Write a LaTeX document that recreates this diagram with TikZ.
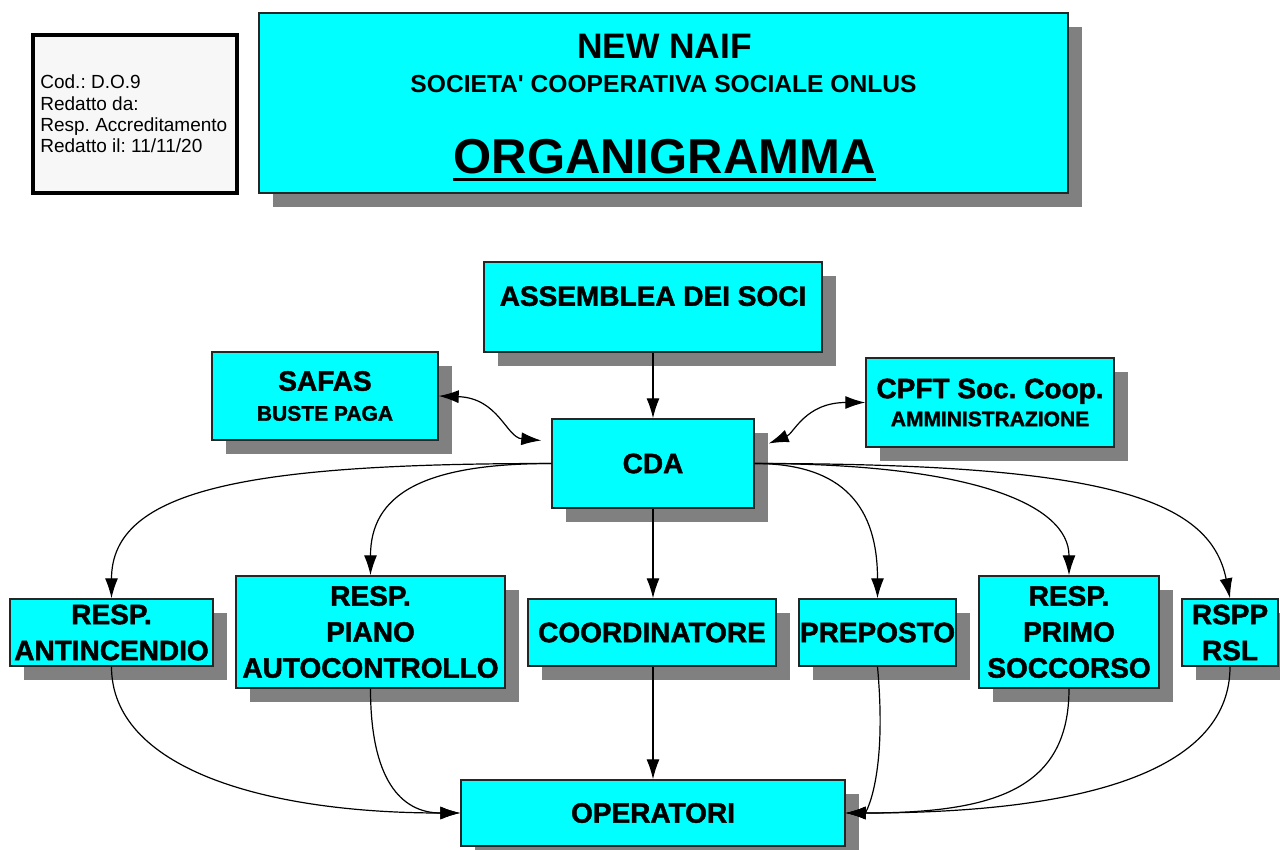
\documentclass[tikz,border=0pt]{standalone}
\usepackage{fontspec}
\setmainfont{Liberation Sans}
\newfontfamily\boxfont{Liberation Sans}[BoldFeatures={FakeBold=1.5}]
\usetikzlibrary{arrows.meta,shadows}
\definecolor{boxcyan}{RGB}{0,255,255}
\newcommand\subsize{\fontsize{10.5}{18}\selectfont}
\frenchspacing

\tikzset{
  orgbox/.style={draw=black!85, line width=0.7pt, fill=boxcyan, inner sep=0pt, align=center,
    drop shadow={shadow xshift=7pt, shadow yshift=-7pt, fill=black!50, opacity=1},
    font=\boxfont\bfseries\fontsize{14}{18}\selectfont},
  link/.style={line width=0.6pt, >={Latex[length=10pt,width=6.5pt]}},
}

\begin{document}
\begin{tikzpicture}[x=0.5pt, y=-0.5pt]
    \useasboundingbox (0,0) rectangle (1280,850);
    \fill[white] (0,0) rectangle (1280,850);

    % Info box
    \node[draw=black, line width=2pt, fill=black!3, minimum width=102pt, minimum height=79pt] (info) at (135,114) {};
    \node[anchor=west, align=left, inner sep=0pt, font=\fontsize{9.5}{10.7}\selectfont] (infotext) at (40,114)
        {Cod.: D.O.9\\Redatto da:\\Resp. Accreditamento\\Redatto il: 11/11/20};

    % Title
    \node[orgbox, minimum width=404.5pt, minimum height=90pt] (title) at (663.5,103) {};
    \node[font=\bfseries\fontsize{17.7}{20}\selectfont, inner sep=0pt] (naif) at (664.5,46) {NEW NAIF};
    \node[font=\bfseries\fontsize{12.3}{14}\selectfont, inner sep=0pt] (coop) at (663.5,84) {SOCIETA\textquotesingle{} COOPERATIVA SOCIALE ONLUS};
    \node[font=\bfseries\fontsize{24.5}{28}\selectfont, inner sep=0pt] (orga) at (664.5,157) {ORGANIGRAMMA};
    \draw[line width=1.5pt] ([yshift=-3pt]orga.base west) -- ([yshift=-3pt]orga.base east);

    % Top levels
    \node[orgbox, minimum width=169pt, minimum height=45pt, text depth=11pt] (assemblea) at (653,307) {ASSEMBLEA DEI SOCI};
    \node[orgbox, minimum width=113pt, minimum height=44pt] (safas) at (325,396) {SAFAS\\[-3pt]\subsize BUSTE PAGA};
    \node[orgbox, minimum width=124pt, minimum height=44.5pt] (cpft) at (990,402.5) {CPFT Soc. Coop.\\[-4pt]\subsize AMMINISTRAZIONE};
    \node[orgbox, minimum width=101pt, minimum height=44.5pt] (cda) at (653,463.5) {CDA};

    % Bottom row
    \node[orgbox, minimum width=101.5pt, minimum height=33.5pt] (antinc) at (111.5,632.5) {RESP.\\ANTINCENDIO};
    \node[orgbox, minimum width=134.5pt, minimum height=56pt] (piano) at (370.5,632) {RESP.\\PIANO\\AUTOCONTROLLO};
    \node[orgbox, minimum width=124pt, minimum height=33.5pt] (coord) at (652,632.5) {COORDINATORE};
    \node[orgbox, minimum width=78.5pt, minimum height=33.5pt] (preposto) at (877.5,632.5) {PREPOSTO};
    \node[orgbox, minimum width=90pt, minimum height=56pt] (soccorso) at (1069,632) {RESP.\\PRIMO\\SOCCORSO};
    \node[orgbox, minimum width=48pt, minimum height=33.5pt] (rspp) at (1230,632.5) {RSPP\\RSL};
    \node[orgbox, minimum width=192pt, minimum height=33pt] (operatori) at (653,813) {OPERATORI};

    % Links
    \draw[link,->] (assemblea) -- (cda);
    \draw[link,<->] (safas.east) .. controls +(60,2) and +(-35,-3) .. ([shift={(-10,-23)}]cda.west);
    \draw[link,<->] (cpft.west) .. controls +(-60,0) and +(25,-10) .. ([shift={(14,-20)}]cda.east);

    \draw[link,->] (cda.west) .. controls +(-300,0) and +(0,-110) .. (antinc.north);
    \draw[link,->] (cda.west) .. controls +(-130,0) and +(0,-80) .. (piano.north);
    \draw[link,->] (cda) -- (cda |- coord.north);
    \draw[link,->] (cda.east) .. controls +(90,0) and +(0,-90) .. (preposto.north);
    \draw[link,->] (cda.east) .. controls +(220,0) and +(0,-70) .. (soccorso.north);
    \draw[link,->] (cda.east) .. controls +(350,0) and +(-20,-100) .. (rspp.north);

    \draw[link,->] (antinc.south) .. controls +(0,100) and +(-200,0) .. (operatori.west);
    \draw[link,->] (piano.south) .. controls +(0,90) and +(-60,0) .. (operatori.west);
    \draw[link,->] (coord.south -| operatori.north) -- (operatori);
    \draw[link,->] (preposto.south) .. controls +(10,110) and +(20,0) .. (operatori.east);
    \draw[link,->] (soccorso.south) .. controls +(0,100) and +(150,0) .. (operatori.east);
    \draw[link,->] (rspp.south) .. controls +(0,100) and +(250,0) .. (operatori.east);
\end{tikzpicture}
\end{document}
